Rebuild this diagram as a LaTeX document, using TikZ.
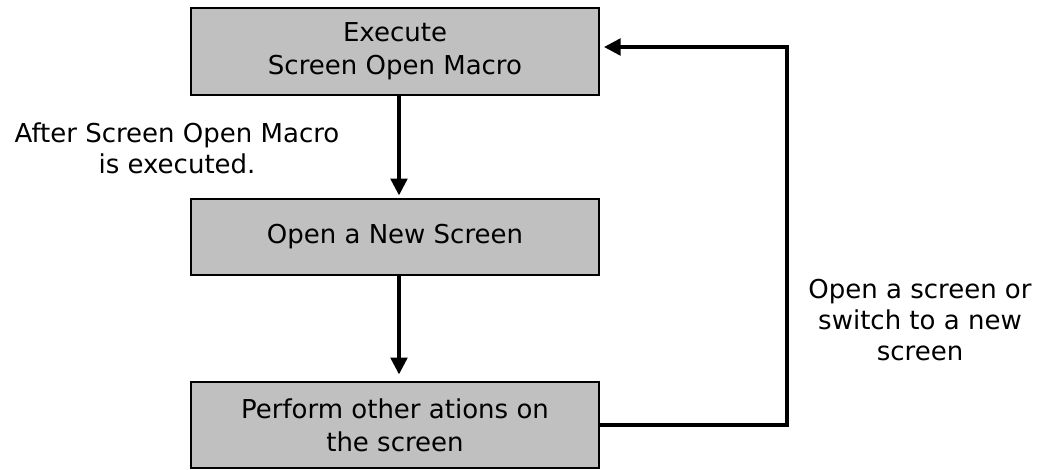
\documentclass[tikz,border=0pt]{standalone}
\usepackage{fontspec}
\setmainfont{DejaVu Sans}
\usetikzlibrary{arrows.meta}
\definecolor{boxgray}{RGB}{192,192,192}
\tikzset{
  stepbox/.style={draw=black, line width=1.5pt, fill=boxgray, minimum width=306pt, inner sep=0pt, align=center, font=\fontsize{19.5pt}{25pt}\selectfont},
  lbl/.style={inner sep=0pt, align=center, font=\fontsize{19.5pt}{23.5pt}\selectfont},
  flow/.style={line width=2.3pt, -{Triangle[length=12.5pt,width=12.5pt]}}
}
\begin{document}
\begin{tikzpicture}[x=0.75pt,y=-0.75pt]
\useasboundingbox (0,0) rectangle (1053,470);
\node[stepbox, minimum height=65.25pt] (top) at (395,51.5) {Execute\\Screen Open Macro};
\node[stepbox, minimum height=57pt] (mid) at (395,237) {Open a New Screen};
\node[stepbox, minimum height=64.5pt] (bot) at (395,425) {Perform other ations on\\the screen};
\node[lbl] (l1) at (177,148) {After Screen Open Macro\\is executed.};
\node[lbl] (l2) at (920,320) {Open a screen or\\switch to a new\\screen};
\coordinate (fbtop) at (787,47);
\draw[flow, shorten >=2pt] ([xshift=3pt]top.south) -- ([xshift=3pt]mid.north);
\draw[flow, shorten >=5pt] ([xshift=3pt]mid.south) -- ([xshift=3pt]bot.north);
\draw[flow, line width=2.6pt, shorten >=3pt] (bot.east) -| (fbtop) -- (top.east |- fbtop);
\end{tikzpicture}
\end{document}
